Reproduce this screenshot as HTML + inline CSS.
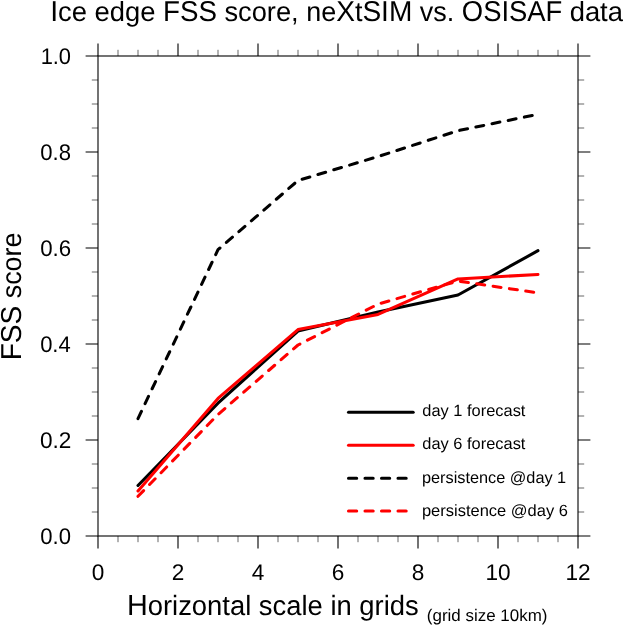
<!DOCTYPE html>
<html><head><meta charset="utf-8"><title>Ice edge FSS score</title>
<style>html,body{margin:0;padding:0;background:#fff;overflow:hidden}svg{display:block;will-change:transform;text-rendering:geometricPrecision}
text{font-family:"Liberation Sans",Arial,Helvetica,sans-serif;fill:#000}</style></head>
<body>
<svg width="624" height="625" viewBox="0 0 624 625">
<rect width="624" height="625" fill="#fff"/>
<g fill="none" stroke="#000" stroke-linecap="butt">
<path d="M118 536v6.2M118 56v-6.2M138 536v6.2M138 56v-6.2M158 536v6.2M158 56v-6.2M198 536v6.2M198 56v-6.2M218 536v6.2M218 56v-6.2M238 536v6.2M238 56v-6.2M278 536v6.2M278 56v-6.2M298 536v6.2M298 56v-6.2M318 536v6.2M318 56v-6.2M358 536v6.2M358 56v-6.2M378 536v6.2M378 56v-6.2M398 536v6.2M398 56v-6.2M438 536v6.2M438 56v-6.2M458 536v6.2M458 56v-6.2M478 536v6.2M478 56v-6.2M518 536v6.2M518 56v-6.2M538 536v6.2M538 56v-6.2M558 536v6.2M558 56v-6.2M98 80h-6.2M578 80h6.2M98 104h-6.2M578 104h6.2M98 128h-6.2M578 128h6.2M98 176h-6.2M578 176h6.2M98 200h-6.2M578 200h6.2M98 224h-6.2M578 224h6.2M98 272h-6.2M578 272h6.2M98 296h-6.2M578 296h6.2M98 320h-6.2M578 320h6.2M98 368h-6.2M578 368h6.2M98 392h-6.2M578 392h6.2M98 416h-6.2M578 416h6.2M98 464h-6.2M578 464h6.2M98 488h-6.2M578 488h6.2M98 512h-6.2M578 512h6.2" stroke-width="0.6"/>
<path d="M98 536v12.4M98 56v-12.4M178 536v12.4M178 56v-12.4M258 536v12.4M258 56v-12.4M338 536v12.4M338 56v-12.4M418 536v12.4M418 56v-12.4M498 536v12.4M498 56v-12.4M578 536v12.4M578 56v-12.4M98 56h-12.4M578 56h12.4M98 152h-12.4M578 152h12.4M98 248h-12.4M578 248h12.4M98 344h-12.4M578 344h12.4M98 440h-12.4M578 440h12.4M98 536h-12.4M578 536h12.4" stroke-width="1.1"/>
<rect x="98" y="56" width="480" height="480" stroke-width="1.1"/>
</g>
<g font-size="22.6" text-anchor="middle">
<text x="98" y="579.9">0</text><text x="178" y="579.9">2</text><text x="258" y="579.9">4</text><text x="338" y="579.9">6</text><text x="418" y="579.9">8</text><text x="498" y="579.9">10</text><text x="578" y="579.9">12</text>
</g>
<text y="20.75" font-size="27.6"><tspan x="50.17" textLength="105.29" lengthAdjust="spacingAndGlyphs"><tspan font-size="28.8">I</tspan>ce edge</tspan> <tspan x="163.12" textLength="53.95" lengthAdjust="spacingAndGlyphs"><tspan font-size="28.8">FSS</tspan></tspan> <tspan x="224.44" textLength="74.18" lengthAdjust="spacingAndGlyphs">score,</tspan> <tspan x="306.21" textLength="106.12" lengthAdjust="spacingAndGlyphs">ne<tspan font-size="28.8">X</tspan>t<tspan font-size="28.8">SIM</tspan></tspan> <tspan x="419.81" textLength="34.47" lengthAdjust="spacingAndGlyphs">vs.</tspan> <tspan x="461.80" textLength="100.59" lengthAdjust="spacingAndGlyphs"><tspan font-size="28.8">OSISAF</tspan></tspan> <tspan x="569.65" textLength="53.35" lengthAdjust="spacingAndGlyphs">data</tspan></text>
<text transform="translate(20.85 360.30) rotate(-90)" font-size="27.6" textLength="127.80" lengthAdjust="spacingAndGlyphs"><tspan font-size="28.8">FSS</tspan> score</text>
<text x="126.94" y="615.2" font-size="27.8" textLength="291.75" lengthAdjust="spacingAndGlyphs"><tspan font-size="29.2">H</tspan>orizontal scale in grids</text>
<text x="426.85" y="620.8" font-size="16.8" textLength="120.60" lengthAdjust="spacingAndGlyphs">(grid size 10km)</text>
<text x="422.31" y="416.4" font-size="16.3" textLength="103.11" lengthAdjust="spacingAndGlyphs">day 1 forecast</text>
<text x="422.31" y="449.4" font-size="16.3" textLength="103.11" lengthAdjust="spacingAndGlyphs">day 6 forecast</text>
<text x="421.95" y="482.7" font-size="16.3" textLength="144.25" lengthAdjust="spacingAndGlyphs">persistence @day 1</text>
<text x="421.94" y="515.7" font-size="16.3" textLength="145.99" lengthAdjust="spacingAndGlyphs">persistence @day 6</text>
<text x="40.63" y="63.75" font-size="22.6" textLength="30.42" lengthAdjust="spacingAndGlyphs">1.0</text>
<text x="40.24" y="159.75" font-size="22.6" textLength="30.72" lengthAdjust="spacingAndGlyphs">0.8</text>
<text x="40.13" y="255.75" font-size="22.6" textLength="30.95" lengthAdjust="spacingAndGlyphs">0.6</text>
<text x="40.14" y="351.75" font-size="22.6" textLength="30.60" lengthAdjust="spacingAndGlyphs">0.4</text>
<text x="40.02" y="447.75" font-size="22.6" textLength="31.42" lengthAdjust="spacingAndGlyphs">0.2</text>
<text x="40.24" y="543.75" font-size="22.6" textLength="30.73" lengthAdjust="spacingAndGlyphs">0.0</text>
<g fill="none" stroke-width="3.05" stroke-linecap="round" stroke-linejoin="round">
<path d="M138 485.5 L218 403.2 L298 331.0 L378 312.0 L458 295.0 L538 250.7" stroke="#000"/>
<path d="M138 491.0 L218 398.4 L298 329.6 L378 314.4 L458 278.9 L538 274.5" stroke="#f00"/>
<path d="M138 418.6 L218 249.7 L298 180.5 L378 156.6 L458 130.7 L538 114.3" stroke="#000" stroke-dasharray="8 8.5"/>
<path d="M138 496.3 L218 414.5 L298 345.0 L378 304.1 L458 281.0 L538 292.9" stroke="#f00" stroke-dasharray="8 8.5"/>
<path d="M348.5 412.25H413.2" stroke="#000"/>
<path d="M348.5 445.25H413.2" stroke="#f00"/>
<path d="M348.5 478.15H413.2" stroke="#000" stroke-dasharray="8.2 8.3"/>
<path d="M348.5 511.05H413.2" stroke="#f00" stroke-dasharray="8.2 8.3"/>
</g>
</svg>
</body></html>
